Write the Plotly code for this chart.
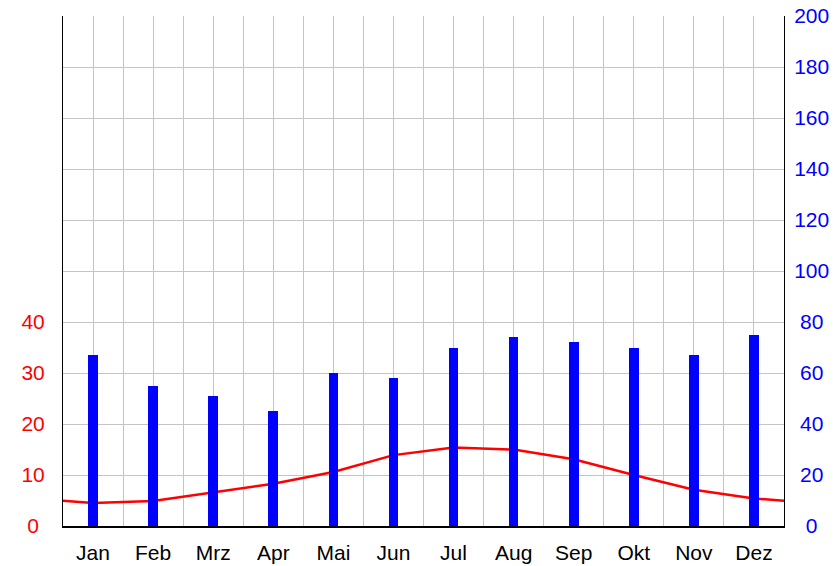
import plotly.graph_objects as go

months = ["Jan", "Feb", "Mrz", "Apr", "Mai", "Jun", "Jul", "Aug", "Sep", "Okt", "Nov", "Dez"]
temperature = [4.5, 4.9, 6.6, 8.3, 10.6, 13.9, 15.4, 15.0, 13.1, 10.0, 7.1, 5.4]
precipitation = [67, 55, 51, 45, 60, 58, 70, 74, 72, 70, 67, 75]
temp_ticks = [0, 10, 20, 30, 40]
precip_ticks = [0, 20, 40, 60, 80, 100, 120, 140, 160, 180, 200]

pos = list(range(1, 13))
# wrap temperature line to the chart edges (Dec/Jan mean)
edge = (temperature[0] + temperature[-1]) / 2
line_x = [0.5] + pos + [12.5]
line_y = [edge] + temperature + [edge]

font = "Liberation Sans, Arial, sans-serif"

fig = go.Figure()
fig.add_trace(go.Bar(x=pos, y=precipitation, yaxis="y2", width=0.16,
                     marker=dict(color="#0000ff", line=dict(width=0)), showlegend=False))
fig.add_trace(go.Scatter(x=line_x, y=line_y, mode="lines",
                         line=dict(color="#ff0000", width=2.5), showlegend=False))

xt = [0.5 + 0.5 * i for i in range(25)]
xtext = [months[int(v) - 1] if float(v).is_integer() else "" for v in xt]
yt = list(range(0, 101, 10))


def left_label(v):
    if v not in temp_ticks:
        return ""
    s = str(v)
    return s + "\u2008" if len(s) == 1 else s


ytext = [left_label(v) for v in yt]


def center_pad(v):
    s = str(v)
    if len(s) == 1:
        return "\u2007" + s
    if len(s) == 2:
        return "\u2008" + s
    return s


y2text = [center_pad(v) for v in precip_ticks]

fig.update_layout(
    width=834, height=566,
    margin=dict(l=63, r=50, t=16, b=40),
    plot_bgcolor="white", paper_bgcolor="white",
    bargap=0,
    xaxis=dict(range=[0.5, 12.5], tickvals=xt, ticktext=xtext, showgrid=True,
               gridcolor="#c4c4c4", gridwidth=1, showline=True, linecolor="black",
               linewidth=1.5, ticks="", tickfont=dict(family=font, size=21, color="black"),
               ticklabelstandoff=7, zeroline=False, automargin=False),
    yaxis=dict(range=[0, 100], tickvals=yt, ticktext=ytext, showgrid=True,
               gridcolor="#c4c4c4", gridwidth=1, showline=True, linecolor="black",
               linewidth=1, ticks="", tickfont=dict(family=font, size=21, color="#ff0000"),
               ticklabelstandoff=13, zeroline=False, automargin=False),
    yaxis2=dict(range=[0, 200], tickvals=precip_ticks, ticktext=y2text, overlaying="y",
                side="right", showgrid=False, showline=True, linecolor="black",
                linewidth=1, ticks="", tickfont=dict(family=font, size=21, color="#0000ff"),
                ticklabelstandoff=5, zeroline=False, automargin=False),
)

fig.write_html("out.html", config={"displayModeBar": False},
               post_script="document.body.style.margin='0';document.body.style.overflow='hidden';")
